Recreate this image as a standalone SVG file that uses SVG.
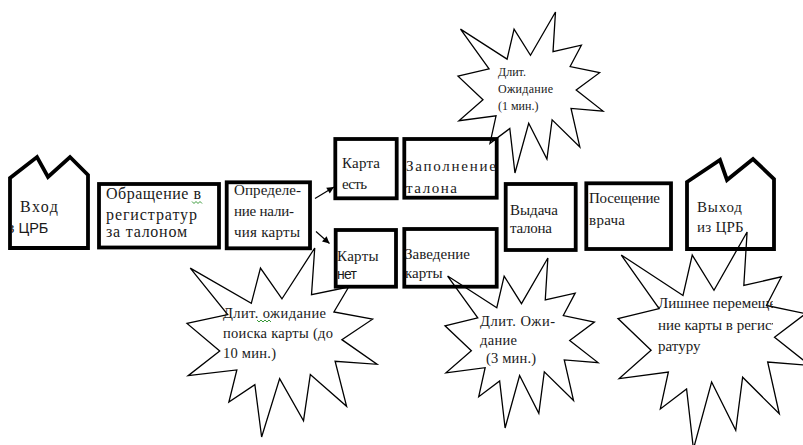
<svg xmlns="http://www.w3.org/2000/svg" xmlns:xlink="http://www.w3.org/1999/xlink" width="803" height="445" viewBox="0 0 803 445">
<style>
.box{fill:#fff;stroke:#000;stroke-width:3.8;stroke-linejoin:miter}
.star{fill:none;stroke:#000;stroke-width:1.3;stroke-linejoin:miter;vector-effect:non-scaling-stroke}
.t{font-family:"Liberation Serif","Times New Roman",serif;fill:#1a1a1a}
.f15{font-size:15px}
.f16{font-size:16px}
.sans{font-family:"Liberation Sans",Arial,sans-serif;fill:#1a1a1a}
.conn{stroke:#000;stroke-width:1.2;fill:none}
.sq{fill:none;stroke:#3a9a3a;stroke-width:1}
</style>
<defs>
<polygon id="seal" class="star" points="108,58 145.22,0 141.55,53.25 183.8,44.57 167.02,73.15 210.97,81.37 176.07,104.75 216,132.9 168.37,129.42 181.45,180.95 140.2,144.57 132.47,197.37 105.32,149.35 84.85,216 77.15,156.27 47.62,176.17 56.67,139.37 1.35,145.87 37.22,117.75 0,86.15 46.27,76.17 3.7,22.95 73.12,63.2 83.52,22.95"/>
<marker id="ah" viewBox="0 0 10 10" refX="10" refY="5" markerWidth="8" markerHeight="7" markerUnits="userSpaceOnUse" orient="auto">
<path d="M0,0 L10,5 L0,10 Z" fill="#000"/>
</marker>
<clipPath id="clipIn"><rect x="11.5" y="215" width="60" height="25"/></clipPath>
<clipPath id="clipR"><rect x="640" y="290" width="133" height="70"/></clipPath>
</defs>

<g id="entry">
<polygon class="box" points="10,178 37,157 48,177 70,157 88,175 88,248 10,248"/>
<text class="t f16" x="20" y="211.5" textLength="38">Вход</text>
<text class="sans" font-size="14.5" x="6.7" y="232.5" clip-path="url(#clipIn)">в ЦРБ</text>
</g>

<g id="reg">
<rect class="box" x="99" y="184" width="120" height="63.5"/>
<text class="t f16" x="106" y="199" textLength="95">Обращение в</text>
<text class="t f16" x="106" y="220" textLength="91">регистратур</text>
<text class="t f16" x="106" y="237" textLength="81">за талоном</text>
<path class="sq" d="M192,201.5 l2,2 l2,-2 l2,2 l2,-2 l2,2"/>
</g>

<g id="check">
<rect class="box" x="226.7" y="182.3" width="83.3" height="66"/>
<text class="t f15" x="234" y="195" textLength="67">Определе-</text>
<text class="t f15" x="234" y="215.5" textLength="60">ние нали-</text>
<text class="t f15" x="234" y="237" textLength="66">чия карты</text>
</g>

<g id="has">
<rect class="box" x="335.3" y="139" width="61.4" height="59.3"/>
<text class="t f15" x="342" y="168" textLength="38">Карта</text>
<text class="t f15" x="342" y="188.5" textLength="25">есть</text>
</g>

<g id="fill">
<rect class="box" x="404.3" y="139" width="92.4" height="58.7"/>
<text class="t f15" x="406" y="171" textLength="90">Заполнение</text>
<text class="t f15" x="406" y="192.5" textLength="51">талона</text>
</g>

<g id="none">
<rect class="box" x="335.7" y="230" width="60.3" height="56.7"/>
<text class="t f15" x="337" y="261" textLength="41.7">Карты</text>
<text class="sans" font-size="14" x="337" y="278.5" textLength="20">нет</text>
</g>

<g id="create">
<rect class="box" x="404.3" y="229" width="92.4" height="57.7"/>
<text class="t f15" x="405" y="259" textLength="65">Заведение</text>
<text class="t f15" x="405" y="278" textLength="37.7">карты</text>
</g>

<g id="issue">
<rect class="box" x="505.7" y="184" width="70" height="66"/>
<text class="t f15" x="510" y="215" textLength="48">Выдача</text>
<text class="t f15" x="510" y="233" textLength="42">талона</text>
</g>

<g id="visit">
<rect class="box" x="586.3" y="183.3" width="84.7" height="65.7"/>
<text class="t f15" x="589" y="203" textLength="71">Посещение</text>
<text class="t f15" x="589" y="225" textLength="36">врача</text>
</g>

<g id="exit">
<polygon class="box" points="687,182 720,160 727,180 753,159 774,179 774,249 687,249"/>
<text class="t f15" x="697" y="211.5" textLength="45">Выход</text>
<text class="t f15" x="697" y="231.5" textLength="46.7">из ЦРБ</text>
</g>

<g id="connectors">
<line class="conn" x1="315" y1="198.5" x2="334" y2="187" marker-end="url(#ah)"/>
<line class="conn" x1="316" y1="231.5" x2="329.5" y2="243.5" marker-end="url(#ah)"/>
</g>

<g id="wait1">
<use xlink:href="#seal" href="#seal" transform="translate(458,12) scale(0.6713,0.7454)"/>
<text class="t" font-size="12" x="498" y="76">Длит.</text>
<text class="t" font-size="12" x="498" y="93" textLength="55">Ожидание</text>
<text class="t" font-size="12" x="498" y="110">(1 мин.)</text>
</g>

<g id="wait10">
<use xlink:href="#seal" href="#seal" transform="translate(187,248) scale(0.8796,0.875)"/>
<text class="t" font-size="14.5" x="223" y="317.5" textLength="103">Длит. ожидание</text>
<text class="t" font-size="14.5" x="223" y="338" textLength="110">поиска карты (до</text>
<text class="t" font-size="14.5" x="223" y="358" textLength="53">10 мин.)</text>
<path class="sq" d="M257,320 l2,2 l2,-2 l2,2 l2,-2 l2,2 l2,-2 l2,2"/>
</g>

<g id="wait3">
<use xlink:href="#seal" href="#seal" transform="translate(445,258) scale(0.7083,0.787)"/>
<text class="t" font-size="14.5" x="480" y="325.5" textLength="75">Длит. Ожи-</text>
<text class="t" font-size="14.5" x="480" y="345" textLength="37">дание</text>
<text class="t" font-size="14.5" x="486" y="363" textLength="50">(3 мин.)</text>
</g>

<g id="extra">
<use xlink:href="#seal" href="#seal" transform="translate(618,232) scale(0.8889,1.0046)"/>
<g clip-path="url(#clipR)">
<text class="t f15" x="658" y="308">Лишнее перемеще</text>
<text class="t f15" x="658" y="329.5">ние карты в регист</text>
<text class="t f15" x="658" y="351">ратуру</text>
</g>
</g>
</svg>
